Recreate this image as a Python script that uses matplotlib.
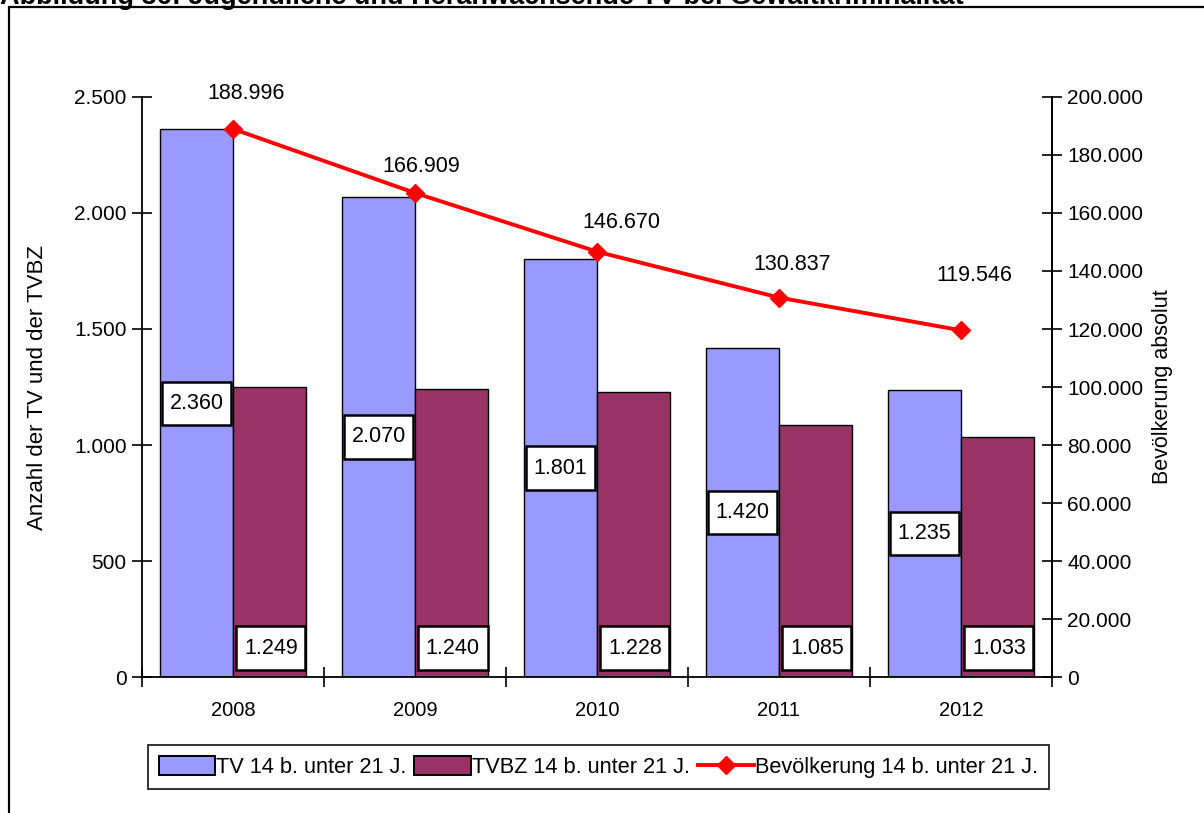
import numpy as np
import matplotlib
matplotlib.use("Agg")
import matplotlib.pyplot as plt
from matplotlib.path import Path
from matplotlib.ticker import FuncFormatter, FixedLocator
from matplotlib.lines import Line2D
from matplotlib.patches import Patch, Rectangle

plt.rcParams['font.family'] = ['Liberation Sans', 'DejaVu Sans']

years = ["2008", "2009", "2010", "2011", "2012"]
tv = [2360, 2070, 1801, 1420, 1235]
tvbz = [1249, 1240, 1228, 1085, 1033]
pop = [188996, 166909, 146670, 130837, 119546]
series_names = ["TV 14 b. unter 21 J.", "TVBZ 14 b. unter 21 J.", "Bevölkerung 14 b. unter 21 J."]
title = "Abbildung 36: Jugendliche und Heranwachsende TV bei Gewaltkriminalität"

# label offsets (pixels) for population labels (style)
pop_label_off = [(13, 35), (6, 26), (24, 29), (13, 33), (13, 55)]

C_TV = '#9999FF'
C_TVBZ = '#993366'
C_POP = '#FF0000'

W, H = 1204, 813
fig = plt.figure(figsize=(W / 100, H / 100), dpi=100)

# outer frame (partially cut like the reference)
fig.patches.append(Rectangle((9 / W, -0.1), 1.2, 1 - 7 / H + 0.1, transform=fig.transFigure,
                             fill=False, edgecolor='black', lw=1.6))
fig.text(0, 1 - 4 / H, title, fontsize=19.5, fontweight='bold', ha='left', va='baseline')

ax = fig.add_axes([142 / W, 1 - 677 / H, (1052 - 142) / W, (677 - 97) / H])
ax.set_facecolor('none')
x = np.arange(len(years))
bw = 0.4
ax.bar(x - bw / 2, tv, bw, color=C_TV, edgecolor='black', lw=1.0, zorder=2)
ax.bar(x + bw / 2, tvbz, bw, color=C_TVBZ, edgecolor='black', lw=1.0, zorder=2)
ax.set_xlim(-0.5, len(years) - 0.5)
ax.set_ylim(0, 2500)

def de_fmt(v, pos=None):
    return f"{int(round(v)):,}".replace(",", ".")

ax.yaxis.set_major_locator(FixedLocator(np.arange(0, 2501, 500)))
ax.yaxis.set_major_formatter(FuncFormatter(de_fmt))
ax.set_xticks(x)
ax.set_xticklabels(years)
ax.set_xticks(np.arange(-0.5, len(years)), minor=True)
ax.tick_params(axis='x', which='major', length=0, labelsize=14.5, pad=17)
ax.tick_params(axis='x', which='minor', direction='inout', length=14, width=1.2)
ax.tick_params(axis='y', direction='inout', length=14, width=1.2, labelsize=15, pad=4)
for s in ['top']:
    ax.spines[s].set_visible(False)
for s in ['left', 'bottom', 'right']:
    ax.spines[s].set_linewidth(1.3)
ax.set_ylabel("Anzahl der TV und der TVBZ", fontsize=16, labelpad=19)


def label_box(x0, y0, width, height, mutation_size):
    px = 0.36 * mutation_size
    py = 0.52 * mutation_size
    l, b, r, t = x0 - px, y0 - py, x0 + width + px, y0 + height + py
    return Path([(l, b), (r, b), (r, t), (l, t), (l, b)],
                [Path.MOVETO, Path.LINETO, Path.LINETO, Path.LINETO, Path.CLOSEPOLY])

bbox_kw = dict(boxstyle=label_box, facecolor='white', edgecolor='black', lw=1.8)
for xi, v in zip(x, tv):
    ax.text(xi - bw / 2, v / 2, de_fmt(v), ha='center', va='center', fontsize=15.5,
            bbox=bbox_kw, zorder=5)
for xi, v in zip(x, tvbz):
    ax.annotate(de_fmt(v), xy=(xi + bw / 2, 0), xytext=(1, 29 * 0.72), textcoords='offset points',
                ha='center', va='center', fontsize=15.5, bbox=bbox_kw, zorder=5)

ax2 = ax.twinx()
ax2.set_facecolor('none')
ax2.plot(x, pop, color=C_POP, lw=2.8, marker='D', ms=9, zorder=4)
ax2.set_ylim(0, 200000)
ax2.yaxis.set_major_locator(FixedLocator(np.arange(0, 200001, 20000)))
ax2.yaxis.set_major_formatter(FuncFormatter(de_fmt))
ax2.tick_params(axis='y', direction='inout', length=14, width=1.2, labelsize=15, pad=4)
for s in ['top', 'left', 'bottom']:
    ax2.spines[s].set_visible(False)
ax2.spines['right'].set_linewidth(1.3)
ax2.set_ylabel("Bevölkerung absolut", fontsize=15.5, labelpad=6)
for xi, v, (ox, oy) in zip(x, pop, pop_label_off):
    ax2.annotate(de_fmt(v), xy=(xi, v), xytext=(ox * 0.72, oy * 0.72), textcoords='offset points',
                 ha='center', va='center', fontsize=15.5)

handles = [Patch(facecolor=C_TV, edgecolor='black', lw=1.4),
           Patch(facecolor=C_TVBZ, edgecolor='black', lw=1.4),
           Line2D([], [], color=C_POP, lw=2.8, marker='D', ms=9)]
leg = fig.legend(handles, series_names, loc='center', bbox_to_anchor=((140 + 1057) / 2 / W, 1 - 767 / H),
                 ncol=3, fontsize=15.7, frameon=True, fancybox=False, edgecolor='black',
                 handlelength=2.6, handleheight=1.0, handletextpad=0.05, columnspacing=0.35,
                 borderpad=0.5, borderaxespad=0)
leg.get_frame().set_linewidth(1.4)

fig.savefig("out.png", dpi=100)
